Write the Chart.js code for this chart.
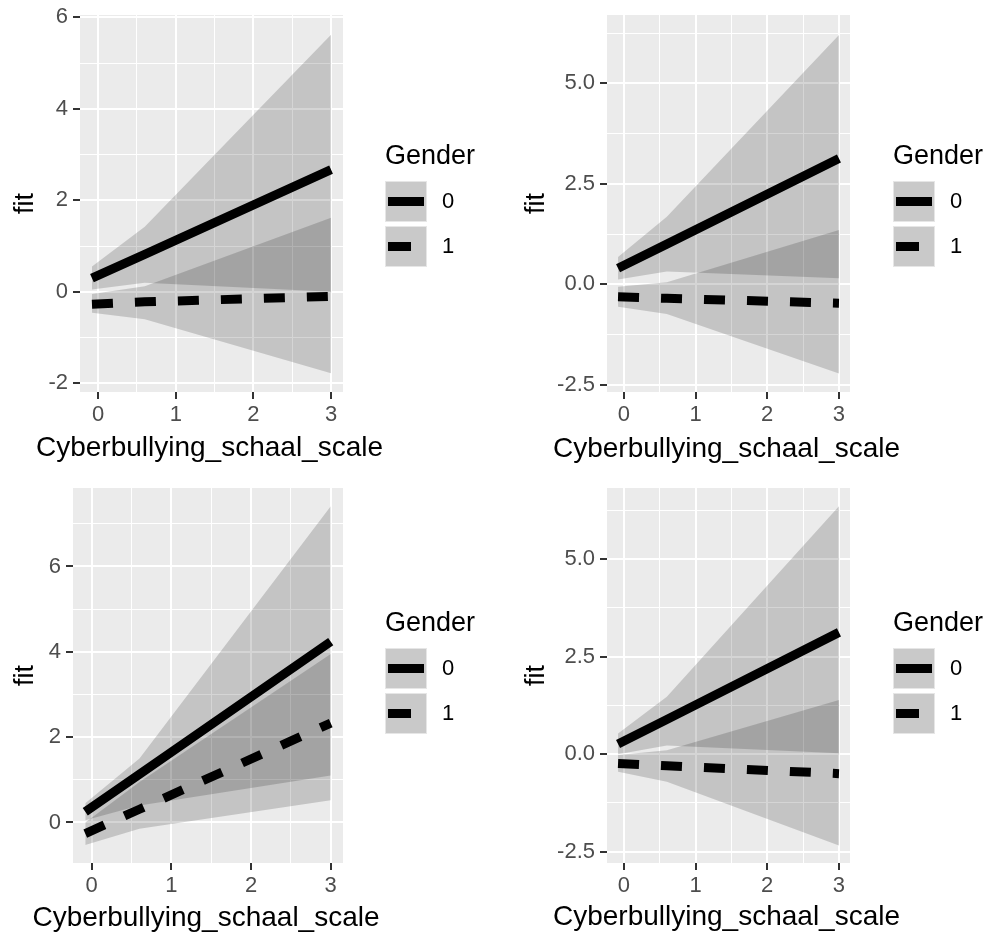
<!DOCTYPE html>
<html>
<head>
<meta charset="utf-8">
<script src="https://cdn.jsdelivr.net/npm/chart.js@4.4.0/dist/chart.umd.min.js"></script>
<style>
  body { margin: 0; background: #fff; font-family: 'Liberation Sans', Arial, Helvetica, sans-serif; }
  #wrap { position: relative; width: 990px; height: 933px; overflow: hidden; }
  canvas.panel { position: absolute; }
  .legend-title { position: absolute; font-size: 27px; line-height: 32px; color: #000; white-space: nowrap; }
  .x-title { position: absolute; font-size: 28px; line-height: 32px; color: #000; white-space: nowrap; text-align: center; width: 400px; }
  .key { position: absolute; width: 42px; height: 41px; background: #c9c9c9; box-sizing: border-box; border: 1px solid #e6e6e6; }
  .glyph { position: absolute; left: 2px; top: 15px; height: 9px; background: #000; }
  .key-label { position: absolute; font-size: 22px; line-height: 26px; color: #000; }
</style>
</head>
<body>
<div id="wrap"></div>
<script>
const FONT = "'Liberation Sans', Arial, Helvetica, sans-serif";

// shared x positions of the effect estimates
const xVals = [-0.08, 0.6, 3.0];
const xTicks = [0, 1, 2, 3];
const xMinor = [0.5, 1.5, 2.5];
const genders = ['0', '1'];

// panel 1 (top left)
const p1Fit0 = [0.30, 0.82, 2.67];
const p1Hi0 = [0.55, 1.42, 5.62];
const p1Lo0 = [0.05, 0.20, 0.00];
const p1Fit1 = [-0.27, -0.22, -0.10];
const p1Hi1 = [-0.05, 0.12, 1.62];
const p1Lo1 = [-0.46, -0.60, -1.78];
const p1YTicks = [-2, 0, 2, 4, 6];
const p1YLabels = ['-2', '0', '2', '4', '6'];
const p1YMinor = [-1, 1, 3, 5];

// panel 2 (top right)
const p2Fit0 = [0.40, 1.00, 3.13];
const p2Hi0 = [0.68, 1.68, 6.20];
const p2Lo0 = [0.12, 0.32, 0.15];
const p2Fit1 = [-0.31, -0.35, -0.47];
const p2Hi1 = [-0.06, 0.05, 1.35];
const p2Lo1 = [-0.56, -0.74, -2.22];
const p2YTicks = [-2.5, 0, 2.5, 5];
const p2YLabels = ['-2.5', '0.0', '2.5', '5.0'];
const p2YMinor = [-1.25, 1.25, 3.75, 6.25];

// panel 3 (bottom left)
const p3Fit0 = [0.25, 1.13, 4.24];
const p3Hi0 = [0.45, 1.50, 7.41];
const p3Lo0 = [0.05, 0.40, 1.10];
const p3Fit1 = [-0.26, 0.31, 2.33];
const p3Hi1 = [0.00, 0.95, 3.95];
const p3Lo1 = [-0.53, -0.15, 0.52];
const p3YTicks = [0, 2, 4, 6];
const p3YLabels = ['0', '2', '4', '6'];
const p3YMinor = [1, 3, 5, 7];

// panel 4 (bottom right)
const p4Fit0 = [0.26, 0.89, 3.12];
const p4Hi0 = [0.53, 1.47, 6.35];
const p4Lo0 = [0.00, 0.22, 0.02];
const p4Fit1 = [-0.24, -0.30, -0.50];
const p4Hi1 = [-0.02, 0.10, 1.39];
const p4Lo1 = [-0.45, -0.71, -2.34];
const p4YTicks = [-2.5, 0, 2.5, 5];
const p4YLabels = ['-2.5', '0.0', '2.5', '5.0'];
const p4YMinor = [-1.25, 1.25, 3.75, 6.25];

const xRange = [-0.234, 3.154];
const xTitle = 'Cyberbullying_schaal_scale';

const panels = [
  { left: 0, top: 0, w: 495, h: 466, area: { l: 80, r: 343, t: 15, b: 392 }, yRange: [-2.19, 6.05],
    yTitlePad: 9, xTitleY: 447, legend: { x: 385, y: 139 },
    fit0: p1Fit0, hi0: p1Hi0, lo0: p1Lo0, fit1: p1Fit1, hi1: p1Hi1, lo1: p1Lo1,
    yTicks: p1YTicks, yLabels: p1YLabels, yMinor: p1YMinor },
  { left: 495, top: 0, w: 495, h: 466, area: { l: 112, r: 355, t: 15, b: 392 }, yRange: [-2.68, 6.7],
    yTitlePad: 25, xTitleY: 448, legend: { x: 893, y: 139 },
    fit0: p2Fit0, hi0: p2Hi0, lo0: p2Lo0, fit1: p2Fit1, hi1: p2Hi1, lo1: p2Lo1,
    yTicks: p2YTicks, yLabels: p2YLabels, yMinor: p2YMinor },
  { left: 0, top: 466, w: 495, h: 467, area: { l: 73, r: 343, t: 22, b: 397 }, yRange: [-0.95, 7.84],
    yTitlePad: 9, xTitleY: 451, legend: { x: 385, y: 606 },
    fit0: p3Fit0, hi0: p3Hi0, lo0: p3Lo0, fit1: p3Fit1, hi1: p3Hi1, lo1: p3Lo1,
    yTicks: p3YTicks, yLabels: p3YLabels, yMinor: p3YMinor },
  { left: 495, top: 466, w: 495, h: 467, area: { l: 112, r: 355, t: 22, b: 397 }, yRange: [-2.79, 6.82],
    yTitlePad: 25, xTitleY: 450, legend: { x: 893, y: 606 },
    fit0: p4Fit0, hi0: p4Hi0, lo0: p4Lo0, fit1: p4Fit1, hi1: p4Hi1, lo1: p4Lo1,
    yTicks: p4YTicks, yLabels: p4YLabels, yMinor: p4YMinor }
];

const wrap = document.getElementById('wrap');

// grey panel background like ggplot
const panelBg = {
  id: 'panelBg',
  beforeDraw(chart) {
    const { ctx, chartArea: a } = chart;
    ctx.save();
    ctx.fillStyle = '#EBEBEB';
    ctx.fillRect(a.left, a.top, a.right - a.left, a.bottom - a.top);
    ctx.restore();
  }
};

function makeScale(majors, minors, labels, range, fitFn) {
  const all = majors.concat(minors).sort((a, b) => a - b);
  const isMajor = v => majors.includes(v);
  return {
    type: 'linear',
    min: range[0],
    max: range[1],
    afterBuildTicks: s => { s.ticks = all.map(v => ({ value: v })); },
    afterFit: fitFn,
    ticks: {
      autoSkip: false, maxRotation: 0, minRotation: 0,
      font: { size: 22, family: FONT }, color: '#4D4D4D',
      callback: v => isMajor(v) ? labels[majors.indexOf(v)] : ''
    },
    grid: {
      color: '#FFFFFF',
      lineWidth: c => (c.tick && isMajor(c.tick.value)) ? 2 : 1,
      tickColor: c => (c.tick && isMajor(c.tick.value)) ? '#333333' : 'rgba(0,0,0,0)',
      tickLength: 7,
      tickWidth: 2
    },
    border: { display: false }
  };
}

function renderPanel(cfg) {
  const canvas = document.createElement('canvas');
  canvas.className = 'panel';
  canvas.width = cfg.w;
  canvas.height = cfg.h;
  canvas.style.left = cfg.left + 'px';
  canvas.style.top = cfg.top + 'px';
  wrap.appendChild(canvas);

  const pts = ys => xVals.map((x, i) => ({ x: x, y: ys[i] }));
  const band = 'rgba(0,0,0,0.165)';
  const edge = { borderWidth: 0, borderColor: 'rgba(0,0,0,0)', pointRadius: 0 };

  const datasets = [
    Object.assign({ data: pts(cfg.lo0), fill: false }, edge),
    Object.assign({ data: pts(cfg.hi0), fill: '-1', backgroundColor: band }, edge),
    Object.assign({ data: pts(cfg.lo1), fill: false }, edge),
    Object.assign({ data: pts(cfg.hi1), fill: '-1', backgroundColor: band }, edge),
    { data: pts(cfg.fit1), borderColor: '#000', borderWidth: 9, borderDash: [21, 22], pointRadius: 0, fill: false },
    { data: pts(cfg.fit0), borderColor: '#000', borderWidth: 9, pointRadius: 0, fill: false }
  ];

  const xScale = makeScale(xTicks, xMinor, xTicks.map(String), xRange, s => {
    s.height = cfg.h - cfg.area.b;
    s.paddingLeft = 0; s.paddingRight = 0;
  });
  xScale.ticks.padding = 3;

  const yScale = makeScale(cfg.yTicks, cfg.yMinor, cfg.yLabels, cfg.yRange, s => {
    s.width = cfg.area.l;
    s.paddingTop = 0; s.paddingBottom = 0;
  });
  yScale.ticks.padding = 5;
  yScale.title = { display: true, text: 'fit', color: '#000',
    font: { size: 27, family: FONT, lineHeight: 1.2 }, padding: { top: cfg.yTitlePad, bottom: 0 } };

  new Chart(canvas.getContext('2d'), {
    type: 'line',
    data: { datasets: datasets },
    options: {
      responsive: false,
      animation: false,
      devicePixelRatio: 1,
      events: [],
      layout: { padding: { left: 0, top: cfg.area.t, right: cfg.w - cfg.area.r, bottom: 0 } },
      plugins: { legend: { display: false }, tooltip: { enabled: false } },
      scales: { x: xScale, y: yScale }
    },
    plugins: [panelBg]
  });

  // x axis title (HTML so that it is not squeezed to the axis width)
  const xt = document.createElement('div');
  xt.className = 'x-title';
  xt.style.left = (cfg.left + (cfg.area.l + cfg.area.r) / 2 - 202) + 'px';
  xt.style.top = (cfg.top + cfg.xTitleY - 16) + 'px';
  xt.textContent = xTitle;
  wrap.appendChild(xt);

  // legend (Gender)
  const t = document.createElement('div');
  t.className = 'legend-title';
  t.style.left = cfg.legend.x + 'px';
  t.style.top = cfg.legend.y + 'px';
  t.textContent = 'Gender';
  wrap.appendChild(t);

  genders.forEach((g, i) => {
    const keyTop = cfg.legend.y + 42 + i * 45;
    const key = document.createElement('div');
    key.className = 'key';
    key.style.left = cfg.legend.x + 'px';
    key.style.top = keyTop + 'px';
    const glyph = document.createElement('div');
    glyph.className = 'glyph';
    glyph.style.width = (i === 0 ? 36 : 23) + 'px';
    key.appendChild(glyph);
    wrap.appendChild(key);

    const lab = document.createElement('div');
    lab.className = 'key-label';
    lab.style.left = (cfg.legend.x + 57) + 'px';
    lab.style.top = (keyTop + 7) + 'px';
    lab.textContent = g;
    wrap.appendChild(lab);
  });
}

panels.forEach(renderPanel);
</script>
</body>
</html>
